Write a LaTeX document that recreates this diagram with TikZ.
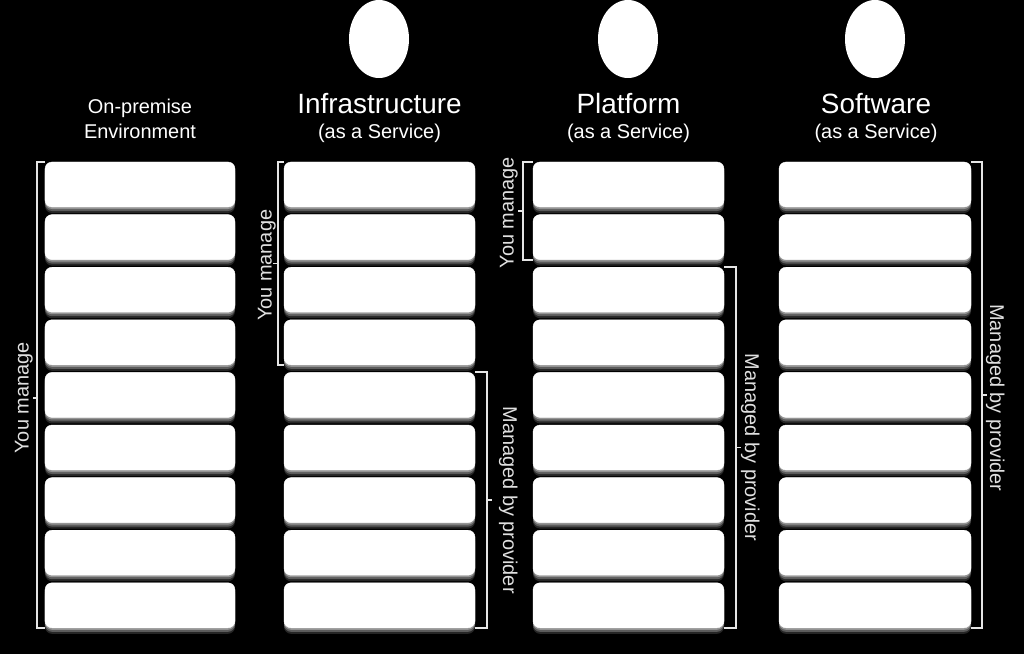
\documentclass[tikz,border=0pt]{standalone}
\usepackage{fontspec}
\setmainfont{Liberation Sans}
\usetikzlibrary{shadows,shapes.geometric,calc}
\begin{document}
\begin{tikzpicture}[x=1bp,y=-1bp,
  layer/.style={draw=white, fill=white, rounded corners=7bp, minimum width=190bp,
    minimum height=45bp, inner sep=0pt,
    general shadow={shadow xshift=0bp, shadow yshift=-6bp, fill=white, opacity=0.15},
    general shadow={shadow xshift=0bp, shadow yshift=-4bp, fill=white, opacity=0.25},
    general shadow={shadow xshift=0bp, shadow yshift=-2bp, fill=white, opacity=0.35}},
  oval/.style={ellipse, fill=white, minimum width=60bp, minimum height=78bp, inner sep=0pt},
  title/.style={text=white, font=\fontsize{28}{32}\selectfont, inner sep=0pt},
  sub/.style={text=white, font=\fontsize{20}{25}\selectfont, inner sep=0pt, align=center},
  lbl/.style={text=white!88!black, font=\fontsize{20}{24}\selectfont, inner sep=0pt},
  brk/.style={draw=white!90!black, line width=1.6bp}]
\fill[black] (0,0) rectangle (1024,654);
\useasboundingbox (0,0) rectangle (1024,654);
% layer boxes
\foreach \c/\x/\w in {1/140/190,2/379.5/191,3/628.5/191,4/875/192}{
  \foreach \r in {1,...,9}{
    \node[layer, minimum width=\w bp] (c\c-\r) at (\x,{162+52.6*(\r-1)+22.5}) {};
  }
}
% ovals
\node[oval] (o2) at (379,39) {};
\node[oval] (o3) at (628,39) {};
\node[oval] (o4) at (875,39) {};
% titles
\node[sub] (t1) at (140,119) {On-premise\\Environment};
\node[title] (t2) at (379.5,104) {Infrastructure};
\node[sub] (s2) at (379.5,133) {(as a Service)};
\node[title] (t3) at (628.5,104) {Platform};
\node[sub] (s3) at (628.5,133) {(as a Service)};
\node[title] (t4) at (876,104) {Software};
\node[sub] (s4) at (876,133) {(as a Service)};
% On-premise: you manage everything
\draw[brk] (c1-1.north west) -- ++(-8,0) |- (c1-9.south west);
\coordinate (m1) at ($(c1-1.north west)!0.5!(c1-9.south west)+(-8,3)$);
\draw[brk] (m1) -- ++(-4,0);
\node[lbl, rotate=90] (l1) at ($(m1)+(-13,0)$) {You manage};
% IaaS
\draw[brk] (c2-1.north west) -- ++(-6,0) |- (c2-4.south west);
\coordinate (m2) at ($(c2-1.north west)!0.5!(c2-4.south west)+(-6,0)$);
\draw[brk] (m2) -- ++(-5,0);
\node[lbl, rotate=90] (l2) at ($(m2)+(-11,2)$) {You manage};
\draw[brk] (c2-5.north east) -- ++(12,0) |- (c2-9.south east);
\coordinate (p2) at ($(c2-5.north east)!0.5!(c2-9.south east)+(12,0)$);
\draw[brk] (p2) -- ++(5,0);
\node[lbl, rotate=-90] (q2) at ($(p2)+(21,0)$) {Managed by provider};
% PaaS
\draw[brk] (c3-1.north west) -- ++(-10,0) |- (c3-2.south west);
\coordinate (m3) at ($(c3-1.north west)!0.5!(c3-2.south west)+(-10,0)$);
\draw[brk] (m3) -- ++(-5,0);
\node[lbl, rotate=90] (l3) at ($(m3)+(-14,2)$) {You manage};
\draw[brk] (c3-3.north east) -- ++(12,0) |- (c3-9.south east);
\coordinate (p3) at ($(c3-3.north east)!0.5!(c3-9.south east)+(12,0)$);
\draw[brk] (p3) -- ++(5,0);
\node[lbl, rotate=-90] (q3) at ($(p3)+(14,0)$) {Managed by provider};
% SaaS
\draw[brk] (c4-1.north east) -- ++(11,0) |- (c4-9.south east);
\coordinate (p4) at ($(c4-1.north east)!0.5!(c4-9.south east)+(11,0)$);
\draw[brk] (p4) -- ++(5,0);
\node[lbl, rotate=-90] (q4) at ($(p4)+(13,3)$) {Managed by provider};
\end{tikzpicture}
\end{document}
